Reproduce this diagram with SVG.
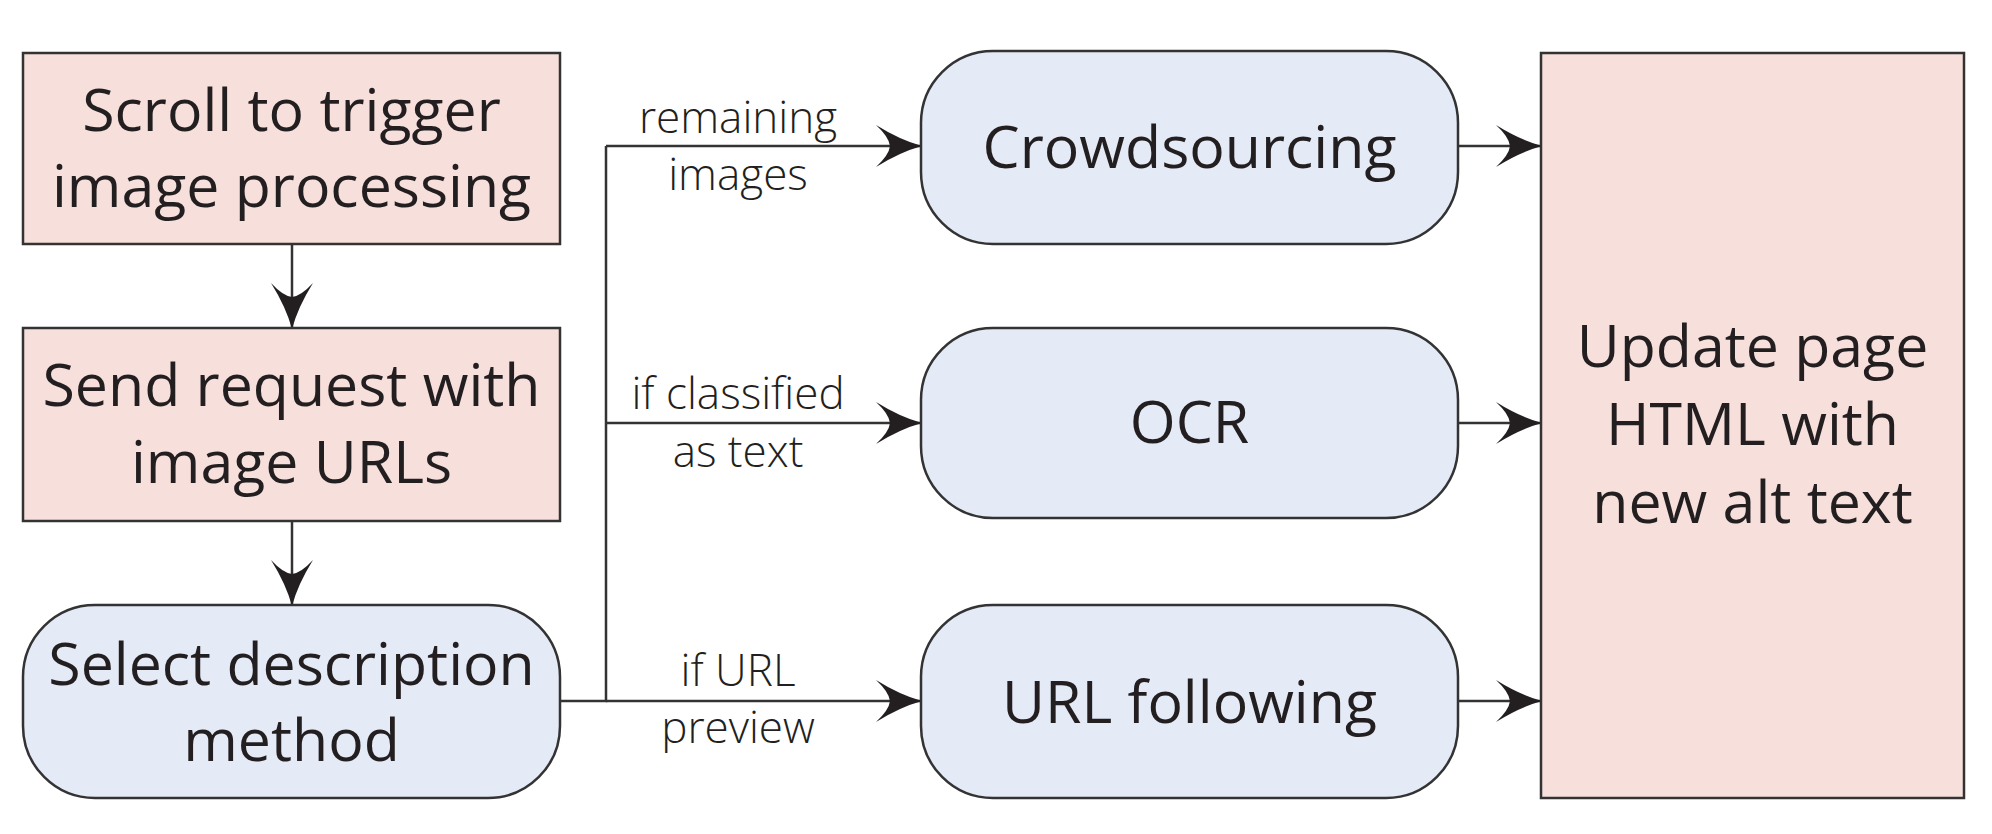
<svg xmlns="http://www.w3.org/2000/svg" width="1992" height="834" viewBox="0 0 1992 834">
<style>
.pink{fill:#f7dfdb;stroke:#333;stroke-width:2.5}
.blue{fill:#e4eaf6;stroke:#333;stroke-width:2.5}
.t{font-family:"Open Sans","Noto Sans",sans-serif;font-size:59px;fill:#231f20;text-anchor:middle}
.l{font-family:"Open Sans","Noto Sans",sans-serif;font-size:44px;font-weight:300;fill:#231f20;text-anchor:middle}
.c{fill:none;stroke:#333;stroke-width:2.5}
</style>
<defs>
<marker id="ah" markerUnits="userSpaceOnUse" markerWidth="46" markerHeight="42" viewBox="0 0 46 42" refX="45" refY="21" orient="auto">
<path d="M0,0 Q24,15 46,21 Q24,27 0,42 Q13,30 14,21 Q13,12 0,0 Z" fill="#231f20"/>
</marker>
</defs>
<g id="connectors">
<path class="c" d="M292,244 V328" marker-end="url(#ah)"/>
<path class="c" d="M292,521 V605" marker-end="url(#ah)"/>
<path class="c" d="M560,701 H606 V146"/>
<path class="c" d="M606,146 H921" marker-end="url(#ah)"/>
<path class="c" d="M606,423 H921" marker-end="url(#ah)"/>
<path class="c" d="M606,701 H921" marker-end="url(#ah)"/>
<path class="c" d="M1458,146 H1541" marker-end="url(#ah)"/>
<path class="c" d="M1458,423 H1541" marker-end="url(#ah)"/>
<path class="c" d="M1458,701 H1541" marker-end="url(#ah)"/>
<text class="l" x="738" y="133">remaining</text>
<text class="l" x="738" y="190">images</text>
<text class="l" x="738" y="409">if classified</text>
<text class="l" x="738" y="467">as text</text>
<text class="l" x="738" y="686">if URL</text>
<text class="l" x="738" y="743">preview</text>
</g>
<g id="scroll">
<rect class="pink" x="23" y="53" width="537" height="191"/>
<text class="t" x="291.5" y="131">Scroll to trigger</text>
<text class="t" x="291.5" y="207">image processing</text>
</g>
<g id="send">
<rect class="pink" x="23" y="328" width="537" height="193"/>
<text class="t" x="291.5" y="406">Send request with</text>
<text class="t" x="291.5" y="483">image URLs</text>
</g>
<g id="select">
<rect class="blue" x="23" y="605" width="537" height="193" rx="72" ry="72"/>
<text class="t" x="291.5" y="685">Select description</text>
<text class="t" x="291.5" y="761">method</text>
</g>
<g id="crowd">
<rect class="blue" x="921" y="51" width="537" height="193" rx="72" ry="72"/>
<text class="t" x="1189.5" y="168">Crowdsourcing</text>
</g>
<g id="ocr">
<rect class="blue" x="921" y="328" width="537" height="190" rx="72" ry="72"/>
<text class="t" x="1189.5" y="443">OCR</text>
</g>
<g id="url">
<rect class="blue" x="921" y="605" width="537" height="193" rx="72" ry="72"/>
<text class="t" x="1189.5" y="723">URL following</text>
</g>
<g id="update">
<rect class="pink" x="1541" y="53" width="423" height="745"/>
<text class="t" x="1752.5" y="367">Update page</text>
<text class="t" x="1752.5" y="445">HTML with</text>
<text class="t" x="1752.5" y="523">new alt text</text>
</g>
</svg>
